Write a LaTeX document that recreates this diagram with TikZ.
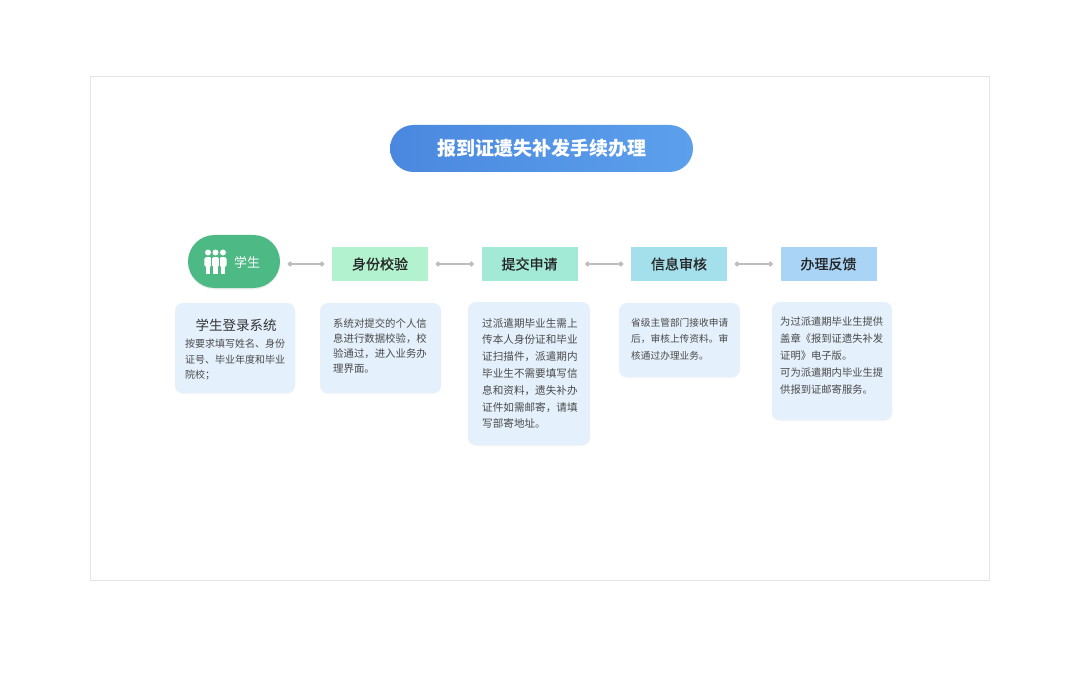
\documentclass[tikz,border=0pt]{standalone}
\usepackage{fontspec}
\setmainfont{Noto Sans CJK SC}
\usetikzlibrary{arrows.meta,shadows}
\definecolor{framec}{HTML}{E4E4E4}
\definecolor{titleL}{HTML}{4A88DF}
\definecolor{titleR}{HTML}{5CA0EC}
\definecolor{stugreen}{HTML}{4DB985}
\definecolor{stepA}{HTML}{B2F2CE}
\definecolor{stepB}{HTML}{A2EAD5}
\definecolor{stepC}{HTML}{A4E0EB}
\definecolor{stepD}{HTML}{A9D4F6}
\definecolor{descfill}{HTML}{E4F0FB}
\definecolor{desctext}{HTML}{4A4A4A}
\definecolor{conncol}{HTML}{BDBDBD}
\tikzset{
  titlepill/.style={rounded corners=23.5pt, minimum width=303pt, minimum height=47pt,
    left color=titleL, right color=titleR, text=white, inner sep=0pt,
    font=\fontsize{19}{19}\selectfont\bfseries},
  studentpill/.style={rounded corners=26.5pt, minimum width=92pt, minimum height=53pt,
    fill=stugreen, inner sep=0pt, drop shadow={opacity=0.12, shadow xshift=0pt, shadow yshift=-1.5pt}},
  stepbox/.style={minimum width=96pt, minimum height=34pt, inner sep=0pt,
    text=black!85, font=\fontsize{14}{14}\selectfont\addfontfeatures{FakeBold=0.8}},
  descbox/.style={rounded corners=8pt, fill=descfill, inner sep=0pt,
    drop shadow={opacity=0.08, shadow xshift=0pt, shadow yshift=-1pt}},
  desctxt/.style={anchor=north west, inner sep=0pt, align=left, text=desctext},
  conn/.style={draw=conncol, line width=1.3pt, shorten <=7.5pt, shorten >=7.5pt,
    {Circle[length=5pt]}-{Circle[length=5pt]}},
}
\begin{document}
\begin{tikzpicture}[x=1pt,y=-1pt]
\useasboundingbox (0,0) rectangle (1080,674);
\fill[white] (0,0) rectangle (1080,674);
\draw[framec, line width=1pt] (90.5,76.5) rectangle (989,580);

% title
\node[titlepill] (title) at (541.5,148.5) {报到证遗失补发手续办理};

% student pill
\node[studentpill] (student) at (234,261.5) {};
\node[text=white, inner sep=0pt, font=\fontsize{13}{13}\selectfont] (stulabel) at (247,262.5) {学生};
% people icon
\begin{scope}[white]
  \foreach \cx in {208,215.5,223}{
    \fill (\cx,252.5) circle (3pt);
    \fill[rounded corners=1.8pt] (\cx-3.6,257) rectangle (\cx+3.6,267);
    \fill (\cx-2.2,266) rectangle (\cx+2.2,273.5);
  }
  \draw[stugreen, line width=0.8pt] (211.75,257) -- (211.75,274);
  \draw[stugreen, line width=0.8pt] (219.25,257) -- (219.25,274);
\end{scope}

% step boxes
\node[stepbox, fill=stepA] (s1) at (380,264) {身份校验};
\node[stepbox, fill=stepB] (s2) at (529.5,264) {提交申请};
\node[stepbox, fill=stepC] (s3) at (679,264) {信息审核};
\node[stepbox, fill=stepD] (s4) at (828.5,264) {办理反馈};

% connectors
\draw[conn] (student.east |- s1.west) -- (s1.west);
\draw[conn] (s1.east) -- (s2.west);
\draw[conn] (s2.east) -- (s3.west);
\draw[conn] (s3.east) -- (s4.west);

% description boxes
\node[descbox, minimum width=120pt, minimum height=90pt] (d1) at (235,348) {};
\node[descbox, minimum width=121pt, minimum height=90pt] (d2) at (380.5,348) {};
\node[descbox, minimum width=122pt, minimum height=143pt] (d3) at (529,373.5) {};
\node[descbox, minimum width=121pt, minimum height=74pt] (d4) at (679.5,340) {};
\node[descbox, minimum width=120pt, minimum height=118pt] (d5) at (832,361) {};

\node[inner sep=0pt, text=black!80, font=\fontsize{13.5}{13.5}\selectfont] (h1) at (236,325) {学生登录系统};
\node[desctxt, font=\fontsize{10}{15.5}\selectfont] (t1) at (185,339) {按要求填写姓名、身份\\证号、毕业年度和毕业\\院校；};
\node[desctxt, font=\fontsize{10.4}{15}\selectfont] (t2) at (333,318) {系统对提交的个人信\\息进行数据校验，校\\验通过，进入业务办\\理界面。};
\node[desctxt, font=\fontsize{10.6}{16.8}\selectfont] (t3) at (482,318) {过派遣期毕业生需上\\传本人身份证和毕业\\证扫描件，派遣期内\\毕业生不需要填写信\\息和资料，遗失补办\\证件如需邮寄，请填\\写部寄地址。};
\node[desctxt, font=\fontsize{9.7}{16.5}\selectfont] (t4) at (631,318) {省级主管部门接收申请\\后，审核上传资料。审\\核通过办理业务。};
\node[desctxt, font=\fontsize{10.3}{17}\selectfont] (t5) at (780,317) {为过派遣期毕业生提供\\盖章《报到证遗失补发\\证明》电子版。\\可为派遣期内毕业生提\\供报到证邮寄服务。};
\end{tikzpicture}
\end{document}
